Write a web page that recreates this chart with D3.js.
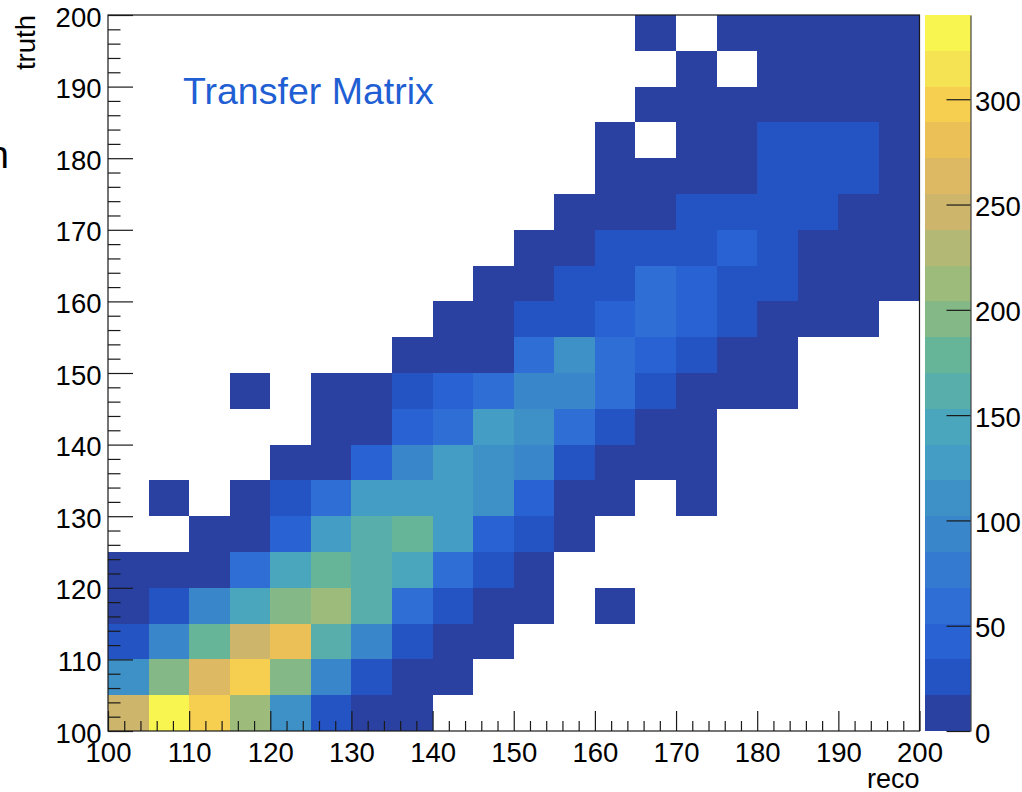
<!DOCTYPE html>
<html>
<head>
<meta charset="utf-8">
<script src="https://cdn.jsdelivr.net/npm/d3@7"></script>
<style>
  html, body { margin: 0; padding: 0; background: #fff; }
  svg { display: block; }
  text { font-family: "Liberation Sans", Arial, Helvetica, sans-serif; }
</style>
</head>
<body>
<svg id="chart" width="1022" height="792"></svg>
<script>
// Bin low edges (bin width 5) for the reco (x) and truth (y) axes
const recoLow  = [100,105,110,115,120,125,130,135,140,145,150,155,160,165,170,175,180,185,190,195];
const truthLow = [100,105,110,115,120,125,130,135,140,145,150,155,160,165,170,175,180,185,190,195];
const binWidth = 5;

// Migration counts: one row per truth bin (from 100 upwards), one column per reco bin
const counts = [
  [246,340,297,212,110, 25,  6,  3,  0,  0,  0,  0,  0,  0,  0,  0,  0,  0,  0,  0],
  [110,195,263,297,195, 93, 25,  9,  2,  0,  0,  0,  0,  0,  0,  0,  0,  0,  0,  0],
  [ 25, 93,178,246,280,161, 93, 25, 10,  4,  0,  0,  0,  0,  0,  0,  0,  0,  0,  0],
  [  8, 25, 93,144,195,212,161, 59, 25, 12,  5,  0,  1,  0,  0,  0,  0,  0,  0,  0],
  [  3,  6, 11, 59,144,178,161,144, 59, 25,  9,  0,  0,  0,  0,  0,  0,  0,  0,  0],
  [  0,  0,  4, 13, 42,127,161,178,127, 42, 25,  8,  0,  0,  0,  0,  0,  0,  0,  0],
  [  0,  1,  0,  6, 25, 59,127,127,127,110, 42, 13,  5,  0,  1,  0,  0,  0,  0,  0],
  [  0,  0,  0,  0,  4, 14, 42, 93,127,110, 93, 25, 11,  6,  3,  0,  0,  0,  0,  0],
  [  0,  0,  0,  0,  0,  3, 12, 42, 59,127,110, 59, 25, 14,  4,  0,  0,  0,  0,  0],
  [  0,  0,  0,  1,  0,  2,  9, 25, 42, 59, 93, 93, 59, 25, 10,  5,  2,  0,  0,  0],
  [  0,  0,  0,  0,  0,  0,  0,  3,  8, 15, 59,110, 59, 42, 25, 12,  4,  0,  0,  0],
  [  0,  0,  0,  0,  0,  0,  0,  0,  5, 14, 25, 25, 42, 59, 42, 25, 11,  6,  2,  0],
  [  0,  0,  0,  0,  0,  0,  0,  0,  0,  4, 13, 25, 25, 59, 42, 25, 25, 12,  7,  3],
  [  0,  0,  0,  0,  0,  0,  0,  0,  0,  0,  3, 11, 25, 25, 25, 42, 25, 14,  9,  5],
  [  0,  0,  0,  0,  0,  0,  0,  0,  0,  0,  0,  2,  7, 13, 25, 25, 25, 25, 13,  8],
  [  0,  0,  0,  0,  0,  0,  0,  0,  0,  0,  0,  0,  2,  5, 10, 15, 25, 25, 25, 12],
  [  0,  0,  0,  0,  0,  0,  0,  0,  0,  0,  0,  0,  1,  0,  6,  9, 25, 25, 25, 13],
  [  0,  0,  0,  0,  0,  0,  0,  0,  0,  0,  0,  0,  0,  1,  3,  6, 10, 12, 14, 15],
  [  0,  0,  0,  0,  0,  0,  0,  0,  0,  0,  0,  0,  0,  0,  1,  0,  4,  7, 10, 14],
  [  0,  0,  0,  0,  0,  0,  0,  0,  0,  0,  0,  0,  0,  1,  0,  2,  3,  6,  9, 12]
];

// Axis tick values
const axisMajorTicks = [100,110,120,130,140,150,160,170,180,190,200];
const axisMinorTicks = [102,104,106,108,112,114,116,118,122,124,126,128,132,134,136,138,
                        142,144,146,148,152,154,156,158,162,164,166,168,172,174,176,178,
                        182,184,186,188,192,194,196,198];
const zTicks = [0,50,100,150,200,250,300];

// 20-level "bird" style palette, lowest to highest
const birdPalette = [
  "#2a41a2","#2453c3","#2862d3","#2f6ed5","#347ad0","#3a86cb","#3e91c7","#439dc4",
  "#49a6bc","#57aeab","#67b599","#84b987","#9dbc7c","#b4b875","#cdb56b","#dcb962",
  "#ebc056","#f6cf50","#f5e354","#f8f551"
];

const svg = d3.select("#chart");
svg.append("rect").attr("width", 1022).attr("height", 792).attr("fill", "#fff");

const frame = { left: 108, right: 919.5, top: 15, bottom: 731 };
const bar = { left: 925, right: 970.5 };
const fontSize = 27.5;
const ink = "#1a1a1a";

const x = d3.scaleLinear().domain([100, 200]).range([frame.left, frame.right]);
const y = d3.scaleLinear().domain([100, 200]).range([frame.bottom, frame.top]);

const zMax = d3.max(counts.flat());
const color = d3.scaleQuantize().domain([0, zMax]).range(birdPalette);
const z = d3.scaleLinear().domain([0, zMax]).range([frame.bottom, frame.top]);

// Histogram cells (empty bins are left blank)
const cells = counts.flatMap((row, j) =>
  row.map((v, i) => ({ reco: recoLow[i], truth: truthLow[j], v }))
).filter(d => d.v > 0);

svg.append("g")
  .selectAll("rect")
  .data(cells)
  .join("rect")
  .attr("x", d => x(d.reco))
  .attr("y", d => y(d.truth + binWidth))
  .attr("width", d => x(d.reco + binWidth) - x(d.reco))
  .attr("height", d => y(d.truth) - y(d.truth + binWidth))
  .attr("fill", d => color(d.v))
  .attr("shape-rendering", "crispEdges");

// Frame
svg.append("rect")
  .attr("x", frame.left).attr("y", frame.top)
  .attr("width", frame.right - frame.left).attr("height", frame.bottom - frame.top)
  .attr("fill", "none").attr("stroke", ink).attr("stroke-width", 1.2);

function styleAxis(g) {
  g.select(".domain").remove();
  g.selectAll("line").attr("stroke", ink).attr("stroke-width", 1.2);
  g.selectAll("text").attr("fill", "#000").style("font-size", fontSize + "px")
    .style("font-family", "'Liberation Sans', Arial, Helvetica, sans-serif");
}

// X axis: minor then major ticks, pointing into the plot
svg.append("g").attr("transform", `translate(0,${frame.bottom})`)
  .call(d3.axisBottom(x).tickValues(axisMinorTicks).tickSize(-10).tickFormat(""))
  .call(styleAxis);
svg.append("g").attr("transform", `translate(0,${frame.bottom})`)
  .call(d3.axisBottom(x).tickValues(axisMajorTicks).tickSize(-20).tickFormat(d3.format("d")))
  .call(styleAxis)
  .call(g => g.selectAll("text").attr("dy", null).attr("y", 31));

// Y axis
svg.append("g").attr("transform", `translate(${frame.left},0)`)
  .call(d3.axisLeft(y).tickValues(axisMinorTicks).tickSize(-12.5).tickFormat(""))
  .call(styleAxis);
svg.append("g").attr("transform", `translate(${frame.left},0)`)
  .call(d3.axisLeft(y).tickValues(axisMajorTicks).tickSize(-25).tickPadding(6.5).tickFormat(d3.format("d")))
  .call(styleAxis)
  .call(g => g.selectAll("text").attr("dy", null).attr("y", 11));

// Colour scale bar
const bands = birdPalette.map((c, i) => ({ c, lo: zMax * i / birdPalette.length, hi: zMax * (i + 1) / birdPalette.length }));
svg.append("g")
  .selectAll("rect")
  .data(bands)
  .join("rect")
  .attr("x", bar.left)
  .attr("width", bar.right - bar.left)
  .attr("y", d => z(d.hi))
  .attr("height", d => z(d.lo) - z(d.hi))
  .attr("fill", d => d.c)
  .attr("shape-rendering", "crispEdges");

svg.append("g").attr("transform", `translate(${bar.right},0)`)
  .call(d3.axisRight(z).tickValues(zTicks).tickSize(-24).tickSizeOuter(0).tickPadding(4.5).tickFormat(d3.format("d")))
  .call(g => {
    g.select(".domain").attr("stroke", "#444").attr("stroke-width", 1.2);
    g.selectAll("line").attr("stroke", ink).attr("stroke-width", 1.2);
    g.selectAll("text").attr("fill", "#000").style("font-size", fontSize + "px")
      .style("font-family", "'Liberation Sans', Arial, Helvetica, sans-serif")
      .attr("dy", null).attr("y", 11);
  });

// Axis titles
svg.append("text")
  .attr("x", frame.right).attr("y", 788)
  .attr("text-anchor", "end")
  .style("font-size", "27px")
  .text("reco");

svg.append("text")
  .attr("transform", `translate(35,${frame.top}) rotate(-90)`)
  .attr("text-anchor", "end")
  .style("font-size", fontSize + "px")
  .text("truth");

// Partly visible glyph at the left edge
svg.append("text")
  .attr("x", 9).attr("y", 168)
  .attr("text-anchor", "end")
  .style("font-size", "38px")
  .text("n");

// Plot label
svg.append("text")
  .attr("x", 183).attr("y", 104)
  .style("font-size", "37.5px")
  .attr("fill", "#1f5fd3")
  .text("Transfer Matrix");
</script>
</body>
</html>
